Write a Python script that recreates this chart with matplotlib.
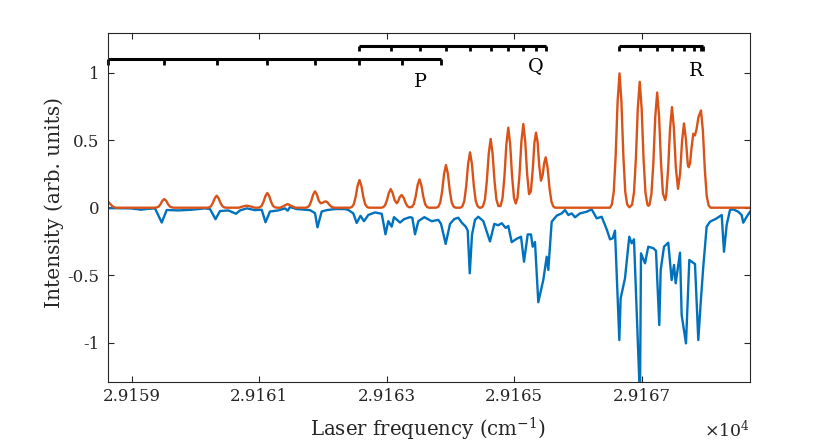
import matplotlib
matplotlib.use("Agg")
import matplotlib.pyplot as plt
from matplotlib.ticker import FixedLocator, FixedFormatter

# ---------------- data ----------------
# experimental spectrum (blue, plotted as negative intensity)
blue_freq = [
    29158.628, 29158.973, 29159.078, 29159.146, 29159.224, 29159.365, 29159.471, 29159.549, 29159.731, 29159.941,
    29160.150, 29160.228, 29160.314, 29160.385, 29160.515, 29160.636, 29160.699, 29160.804, 29160.934, 29161.039,
    29161.099, 29161.169, 29161.300, 29161.405, 29161.447, 29161.483, 29161.588, 29161.797, 29161.875, 29161.914,
    29161.980, 29162.059, 29162.189, 29162.346, 29162.398, 29162.476, 29162.529, 29162.589, 29162.644, 29162.711,
    29162.816, 29162.922, 29162.981, 29163.025, 29163.078, 29163.114, 29163.209, 29163.271, 29163.365, 29163.402,
    29163.444, 29163.496, 29163.590, 29163.706, 29163.809, 29163.852, 29163.925, 29163.993, 29164.060, 29164.123,
    29164.176, 29164.239, 29164.271, 29164.303, 29164.338, 29164.385, 29164.437, 29164.515, 29164.620, 29164.688,
    29164.750, 29164.804, 29164.867, 29164.907, 29164.961, 29165.039, 29165.107, 29165.154, 29165.212, 29165.263,
    29165.290, 29165.326, 29165.378, 29165.456, 29165.510, 29165.535, 29165.588, 29165.667, 29165.745, 29165.797,
    29165.849, 29165.902, 29165.954, 29166.032, 29166.137, 29166.216, 29166.294, 29166.372, 29166.451, 29166.503,
    29166.545, 29166.581, 29166.649, 29166.670, 29166.738, 29166.805, 29166.843, 29166.879, 29166.973, 29166.989,
    29167.052, 29167.103, 29167.182, 29167.224, 29167.276, 29167.298, 29167.350, 29167.417, 29167.470, 29167.507,
    29167.533, 29167.601, 29167.627, 29167.695, 29167.747, 29167.784, 29167.836, 29167.888, 29167.925, 29167.966,
    29168.019, 29168.071, 29168.176, 29168.255, 29168.291, 29168.333, 29168.385, 29168.437, 29168.515, 29168.568,
    29168.593, 29168.647, 29168.699,
]
blue_int = [
    -0.003, -0.005, -0.010, -0.015, -0.010, -0.005, -0.110, -0.017, -0.020, -0.015,
    -0.005, -0.010, -0.085, -0.025, -0.020, -0.045, -0.020, -0.005, -0.018, -0.015,
    -0.108, -0.028, -0.020, -0.005, -0.022, 0.005, -0.010, -0.018, -0.040, -0.145,
    -0.028, -0.018, -0.010, -0.010, -0.017, -0.042, -0.113, -0.060, -0.100, -0.054,
    -0.035, -0.045, -0.197, -0.100, -0.140, -0.070, -0.110, -0.085, -0.070, -0.075,
    -0.197, -0.100, -0.070, -0.100, -0.090, -0.120, -0.268, -0.120, -0.084, -0.074,
    -0.110, -0.140, -0.170, -0.486, -0.200, -0.090, -0.067, -0.099, -0.250, -0.120,
    -0.130, -0.115, -0.150, -0.135, -0.255, -0.230, -0.215, -0.400, -0.198, -0.198,
    -0.289, -0.254, -0.700, -0.536, -0.363, -0.461, -0.104, -0.059, -0.042, -0.017,
    -0.054, -0.042, -0.071, -0.042, -0.030, -0.012, -0.079, -0.067, -0.160, -0.234,
    -0.227, -0.170, -0.980, -0.671, -0.523, -0.215, -0.264, -0.234, -1.420, -0.338,
    -0.412, -0.289, -0.300, -0.319, -0.869, -0.461, -0.289, -0.259, -0.536, -0.424,
    -0.560, -0.333, -0.795, -1.005, -0.387, -0.400, -0.417, -0.980, -0.708, -0.437,
    -0.141, -0.104, -0.079, -0.054, -0.326, -0.128, -0.017, -0.012, -0.030, -0.054,
    -0.111, -0.067, -0.030,
]

# simulated spectrum (orange): vertices
orange_freq = [
    29158.63, 29158.66, 29158.69, 29158.72, 29158.75,
    29159.361, 29159.391, 29159.421, 29159.451, 29159.481, 29159.511, 29159.541, 29159.571, 29159.601, 29159.631, 29159.661,
    29160.183, 29160.213, 29160.243, 29160.273, 29160.303, 29160.333, 29160.363, 29160.393, 29160.423, 29160.453, 29160.483,
    29160.68, 29160.75, 29160.80, 29160.86, 29160.93,
    29160.977, 29161.007, 29161.037, 29161.067, 29161.097, 29161.127, 29161.157, 29161.187, 29161.217, 29161.247, 29161.277,
    29161.33, 29161.39, 29161.447, 29161.50, 29161.57,
    29161.725, 29161.755, 29161.785, 29161.815, 29161.845, 29161.875, 29161.905, 29161.935, 29161.965, 29161.995,
    29162.020, 29162.043, 29162.070, 29162.100, 29162.130, 29162.160, 29162.190,
    29162.423, 29162.453, 29162.483, 29162.513, 29162.543, 29162.573, 29162.603, 29162.633, 29162.663, 29162.693, 29162.723,
    29162.913, 29162.943, 29162.973, 29163.003, 29163.033, 29163.063, 29163.093, 29163.123, 29163.157, 29163.175,
    29163.205, 29163.235, 29163.265, 29163.295, 29163.325, 29163.355,
    29163.394, 29163.424, 29163.454, 29163.484, 29163.514, 29163.544, 29163.574, 29163.604, 29163.634, 29163.664,
    29163.780, 29163.810, 29163.840, 29163.870, 29163.900, 29163.930, 29163.960, 29163.990, 29164.020, 29164.050, 29164.080,
    29164.157, 29164.187, 29164.217, 29164.247, 29164.277, 29164.307, 29164.337, 29164.367, 29164.397, 29164.427, 29164.457,
    29164.481, 29164.511, 29164.541, 29164.571, 29164.601, 29164.631, 29164.661, 29164.691, 29164.721, 29164.751, 29164.769,
    29164.787, 29164.817, 29164.847, 29164.877, 29164.907, 29164.937, 29164.967, 29164.997, 29165.025,
    29165.053, 29165.083, 29165.113, 29165.143, 29165.173, 29165.203, 29165.233,
    29165.262, 29165.292, 29165.317, 29165.342, 29165.367, 29165.392, 29165.420,
    29165.447, 29165.470, 29165.494, 29165.524, 29165.554, 29165.584, 29165.614, 29165.644,
    29166.502, 29166.532, 29166.562, 29166.592, 29166.622, 29166.652, 29166.682, 29166.712, 29166.742, 29166.772, 29166.807,
    29166.849, 29166.879, 29166.909, 29166.939, 29166.969, 29166.999, 29167.029, 29167.059, 29167.089, 29167.105,
    29167.123, 29167.153, 29167.183, 29167.213, 29167.243, 29167.273, 29167.303, 29167.333, 29167.369,
    29167.385, 29167.415, 29167.445, 29167.475, 29167.505, 29167.535, 29167.570,
    29167.603, 29167.633, 29167.663, 29167.693, 29167.723, 29167.738,
    29167.759, 29167.779, 29167.809, 29167.835, 29167.860, 29167.890, 29167.930, 29167.960, 29167.990, 29168.020,
    29168.050, 29168.080,
    29168.700,
]
orange_int = [
    0.045, 0.030, 0.014, 0.004, 0.000,
    0.000, 0.002, 0.008, 0.025, 0.051, 0.064, 0.051, 0.025, 0.008, 0.002, 0.000,
    0.000, 0.002, 0.011, 0.035, 0.070, 0.089, 0.070, 0.035, 0.011, 0.002, 0.000,
    0.000, 0.010, 0.015, 0.010, 0.000,
    0.000, 0.003, 0.013, 0.043, 0.086, 0.109, 0.086, 0.043, 0.013, 0.003, 0.000,
    0.000, 0.014, 0.027, 0.014, 0.000,
    0.000, 0.003, 0.015, 0.047, 0.096, 0.121, 0.097, 0.052, 0.033, 0.036,
    0.044, 0.047, 0.040, 0.022, 0.008, 0.002, 0.000,
    0.000, 0.005, 0.025, 0.080, 0.162, 0.205, 0.162, 0.080, 0.025, 0.005, 0.000,
    0.000, 0.003, 0.017, 0.054, 0.109, 0.138, 0.109, 0.058, 0.033, 0.043,
    0.079, 0.094, 0.074, 0.037, 0.011, 0.003,
    0.005, 0.025, 0.082, 0.166, 0.210, 0.166, 0.082, 0.025, 0.005, 0.000,
    0.000, 0.008, 0.038, 0.123, 0.250, 0.316, 0.250, 0.123, 0.038, 0.008, 0.000,
    0.000, 0.010, 0.049, 0.160, 0.324, 0.410, 0.324, 0.160, 0.049, 0.010, 0.000,
    0.000, 0.012, 0.061, 0.199, 0.402, 0.509, 0.402, 0.199, 0.061, 0.012, 0.013,
    0.014, 0.071, 0.231, 0.468, 0.593, 0.468, 0.231, 0.072, 0.031,
    0.077, 0.242, 0.490, 0.620, 0.490, 0.250, 0.100,
    0.121, 0.290, 0.480, 0.556, 0.487, 0.315, 0.200,
    0.243, 0.330, 0.373, 0.295, 0.145, 0.045, 0.009, 0.000,
    0.000, 0.024, 0.119, 0.388, 0.786, 0.995, 0.786, 0.388, 0.119, 0.024, 0.003,
    0.022, 0.112, 0.364, 0.737, 0.933, 0.737, 0.364, 0.112, 0.024, 0.014,
    0.022, 0.102, 0.333, 0.674, 0.853, 0.674, 0.334, 0.106, 0.056,
    0.093, 0.290, 0.589, 0.745, 0.590, 0.300, 0.140,
    0.254, 0.493, 0.624, 0.508, 0.321, 0.300,
    0.330, 0.430, 0.548, 0.535, 0.580, 0.670, 0.720, 0.570, 0.285, 0.086,
    0.017, 0.000,
    0.000,
]

# rotational line positions (assignment combs)
p_lines = [29158.628, 29159.507, 29160.333, 29161.127, 29161.875, 29162.570, 29163.245, 29163.847]
q_lines = [29162.570, 29163.067, 29163.522, 29163.930, 29164.307, 29164.631, 29164.908, 29165.133,
           29165.342, 29165.499]
r_lines = [29166.649, 29166.974, 29167.245, 29167.471, 29167.664, 29167.821, 29167.925, 29167.967]
comb_levels = {"P": 1.10, "Q": 1.20, "R": 1.20}
label_pos = {"P": (29163.53, 0.892), "Q": (29165.343, 1.013), "R": (29167.852, 0.978)}

x_ticks = [29159, 29161, 29163, 29165, 29167]
x_tick_labels = ["2.9159", "2.9161", "2.9163", "2.9165", "2.9167"]
y_ticks = [-1, -0.5, 0, 0.5, 1]
y_tick_labels = ["-1", "-0.5", "0", "0.5", "1"]

if len(blue_freq) != len(blue_int) or len(orange_freq) != len(orange_int):
    raise SystemExit(f"len mismatch {len(blue_freq)} {len(blue_int)} {len(orange_freq)} {len(orange_int)}")

# ---------------- style ----------------
plt.rcParams["font.family"] = ["DejaVu Serif"]
plt.rcParams["mathtext.fontset"] = "dejavuserif"
plt.rcParams["axes.unicode_minus"] = False

W, H = 829, 443
fig = plt.figure(figsize=(W / 100, H / 100), dpi=100)
ax = fig.add_axes([108 / W, 1 - 382 / H, (750 - 108) / W, (382 - 33) / H])

blue = "#0072BD"
orange = "#D95319"
axcol = "#262626"

ax.plot(blue_freq, blue_int, color=blue, lw=1.7)
ax.plot(orange_freq, orange_int, color=orange, lw=1.7)

tick_len = 0.042
for name, lines in (("P", p_lines), ("Q", q_lines), ("R", r_lines)):
    lev = comb_levels[name]
    ax.plot([lines[0], lines[-1]], [lev, lev], color="k", lw=2.2,
            solid_capstyle="butt", clip_on=False)
    ax.vlines(lines, lev - tick_len, lev, colors="k", lw=2.0, clip_on=False)
    lx, ly = label_pos[name]
    ax.text(lx, ly, name, ha="center", va="baseline", fontsize=13.8, color="k")

ax.set_xlim(29158.628, 29168.699)
ax.set_ylim(-1.291, 1.294)
ax.xaxis.set_major_locator(FixedLocator(x_ticks))
ax.xaxis.set_major_formatter(FixedFormatter(x_tick_labels))
ax.yaxis.set_major_locator(FixedLocator(y_ticks))
ax.yaxis.set_major_formatter(FixedFormatter(y_tick_labels))
ax.tick_params(direction="in", top=True, right=True, length=4, width=0.8,
               labelsize=12, colors=axcol)
ax.tick_params(axis="x", pad=4)
ax.tick_params(axis="y", pad=6)
for sp in ax.spines.values():
    sp.set_color(axcol)
    sp.set_linewidth(0.8)

fig.text(428 / W, 1 - 436.5 / H, "Laser frequency (cm$^{-1}$)", ha="center", va="baseline",
         fontsize=14.2, color=axcol)
fig.text(54 / W, 1 - 202.5 / H, "Intensity (arb. units)", ha="center", va="center",
         rotation=90, fontsize=14.5, color=axcol)
fig.text(750 / W, 1 - 437 / H, r"$\times10^{4}$", ha="right", va="baseline",
         fontsize=12.5, color=axcol)

fig.savefig("out.png", dpi=100)
